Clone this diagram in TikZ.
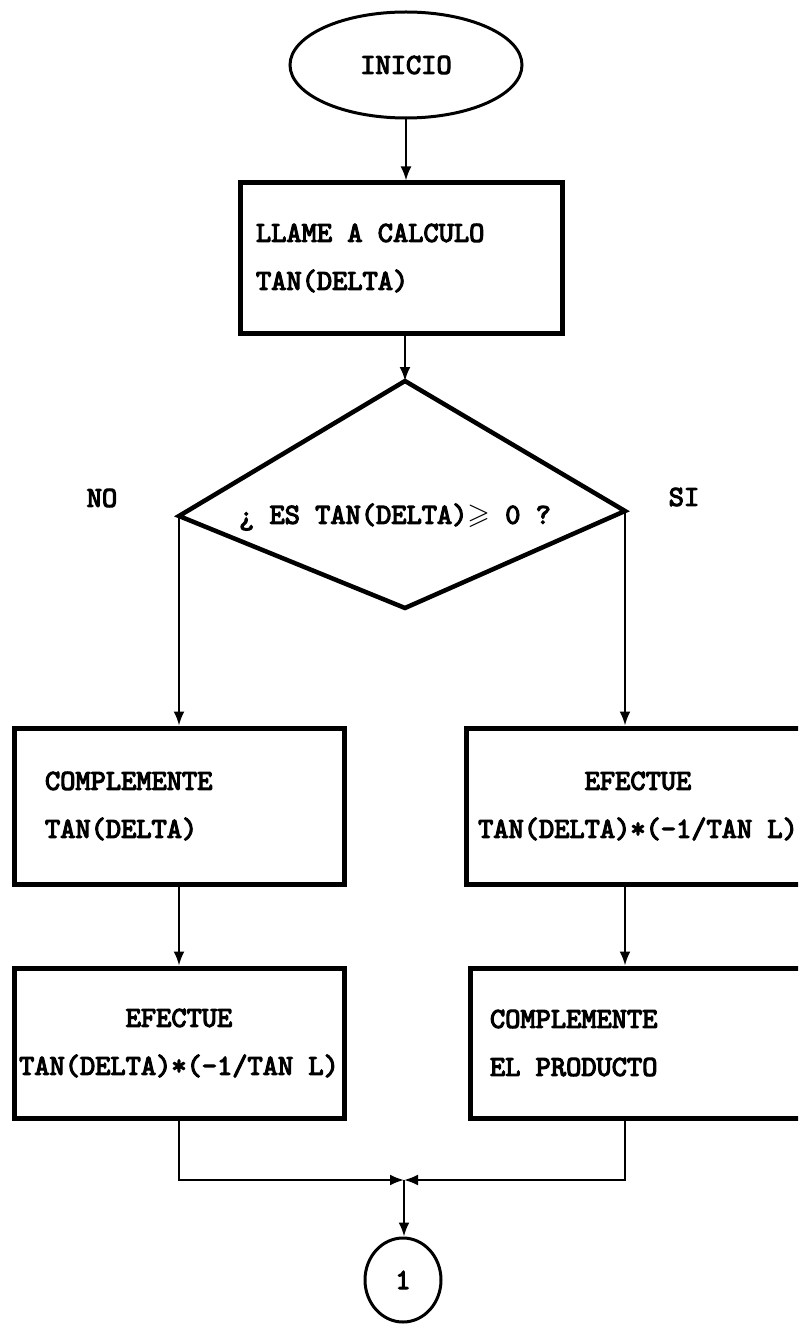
\documentclass[tikz,border=0pt]{standalone}
\usepackage{fontspec}
\usepackage{amssymb}
\newfontfamily\tw{lmmono10-regular.otf}[FakeBold=4,WordSpace={1,0,0}]
\usetikzlibrary{arrows.meta,shapes.geometric}
\begin{document}
\begin{tikzpicture}[x=1pt,y=-1pt,
  txt/.style={font=\tw\fontsize{29}{48}\selectfont},
  boxnode/.style={draw,line width=5pt,txt,minimum height=156pt,inner ysep=0pt},
  conn/.style={line width=2.2pt,-{Latex[length=14pt,width=11pt]}},
  oval/.style={ellipse,draw,line width=3pt,txt,inner sep=0pt}]
\useasboundingbox (0,0) rectangle (798,1324);
\clip (0,0) rectangle (798,1324);

\node[oval,minimum width=232pt,minimum height=106pt] (inicio) at (406,65) {INICIO};
\node[boxnode,text width=290pt,align=flush left,inner xsep=16pt,minimum height=150pt] (llame) at (401,258) {LLAME A CALCULO\\TAN(DELTA)};

\coordinate (dt) at (405,381);
\coordinate (dl) at (179,516);
\coordinate (dr) at (625,511);
\coordinate (db) at (405,608);
\draw[line width=4.5pt,line join=miter] (dt) -- (dr) -- (db) -- (dl) -- cycle;
\node[txt] (q) at (395,517) {¿ ES TAN(DELTA)$\geqslant$ 0 ?};
\node[txt] (no) at (102,498) {NO};
\node[txt] (si) at (684,497) {SI};

\node[boxnode,text width=268pt,align=flush left,inner xsep=31pt] (compl1) at (179,806) {COMPLEMENTE\\TAN(DELTA)};
\node[boxnode,text width=344pt,align=flush center,inner xsep=0pt] (efect1) at (638,806) {EFECTUE\\TAN(DELTA)*(-1/TAN L)};
\node[boxnode,text width=330pt,align=flush center,inner xsep=0pt,minimum height=150pt] (efect2) at (179,1043) {EFECTUE\\TAN(DELTA)*(-1/TAN L)};
\node[boxnode,text width=300pt,align=flush left,inner xsep=20pt,minimum height=150pt] (compl2) at (640,1043) {COMPLEMENTE\\EL PRODUCTO};

\coordinate (j) at (404,1180);
\node[oval,minimum width=76pt,minimum height=84pt] (one) at (403,1280) {1};

\draw[conn] (inicio.south) -- (inicio.south |- llame.north);
\draw[conn] (dt |- llame.south) -- (dt);
\draw[conn] (dl) -- (dl |- compl1.north);
\draw[conn] (dr) -- (dr |- efect1.north);
\draw[conn] (compl1.south) -- (efect2.north);
\draw[conn] (dr |- efect1.south) -- (dr |- compl2.north);
\draw[conn] (efect2.south) |- (j);
\draw[conn] (dr |- compl2.south) |- (j);
\draw[conn] (j) -- (j |- one.north);
\end{tikzpicture}
\end{document}
